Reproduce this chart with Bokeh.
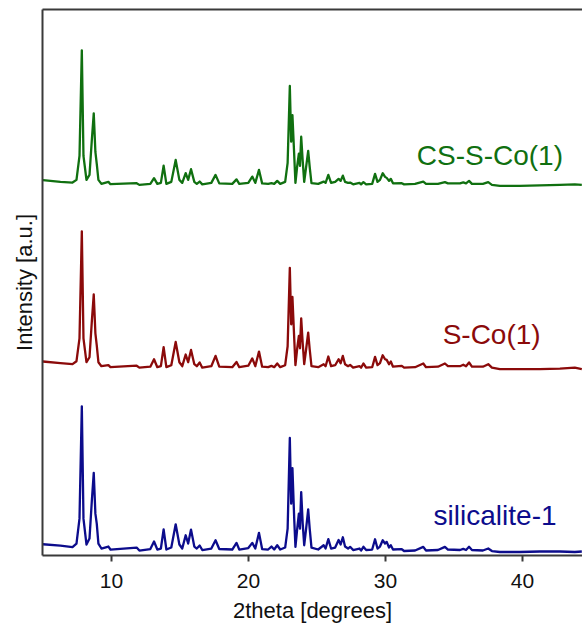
from bokeh.plotting import figure
from bokeh.models import LinearAxis, FixedTicker, Range1d, Label
from bokeh.embed import file_html
from bokeh.resources import INLINE

# 2theta positions (degrees)
two_theta = [5.00, 6.28, 7.16, 7.45, 7.67, 7.84, 7.96, 8.18, 8.40, 8.58,
             8.71, 8.83, 8.93, 9.05, 9.27, 9.78, 9.93, 11.84, 12.04, 12.84,
             13.11, 13.35, 13.61, 13.81, 14.01, 14.37, 14.69, 14.96, 15.17, 15.42,
             15.60, 15.81, 16.05, 16.23, 16.44, 16.63, 17.29, 17.60, 17.87, 18.82,
             19.13, 19.33, 19.99, 20.28, 20.50, 20.77, 21.00, 21.44, 21.68, 21.88,
             22.10, 22.32, 22.68, 22.86, 23.02, 23.12, 23.21, 23.34, 23.43, 23.56,
             23.68, 23.76, 23.85, 23.96, 24.07, 24.21, 24.36, 24.47, 24.60, 25.09,
             25.49, 25.63, 25.83, 26.03, 26.33, 26.58, 26.73, 26.89, 27.05, 27.27,
             27.42, 27.64, 28.10, 28.22, 28.39, 28.59, 29.03, 29.24, 29.42, 29.60,
             29.80, 29.97, 30.09, 30.26, 30.39, 30.55, 31.19, 31.36, 32.16, 32.76,
             32.96, 33.83, 34.34, 34.56, 35.44, 35.68, 35.88, 36.10, 36.31, 37.11,
             37.50, 37.77, 38.35, 39.81, 41.27, 42.73, 43.82, 44.33]

silicalite_1 = [11.3, 10, 8.5, 12, 37, 149.7, 37, 11, 17, 57,
                83, 42, 32, 12, 7, 9, 6, 8, 5, 6.5,
                14, 6, 7, 26.3, 6, 8, 31.3, 11, 7, 20.3,
                12, 26, 9, 7, 10, 5.5, 7, 15.3, 6.5, 6,
                12.7, 6, 7.5, 12.7, 7, 22.7, 6.5, 6, 9, 6,
                10.3, 6, 8, 27, 118, 52, 87.7, 37, 8.7, 27,
                42, 27, 63.7, 32, 10.3, 27, 46.3, 27, 8, 6,
                10.3, 7, 16.5, 7, 8, 15.5, 11, 18.3, 9, 7,
                8.7, 5.5, 7, 5, 8.7, 5.5, 6, 16.3, 7, 9,
                15.3, 12, 13.7, 8, 10.3, 6, 6.3, 4.5, 5, 8.7,
                5, 5.5, 8.7, 6, 5.5, 6.7, 5.5, 8.7, 5.5, 5,
                7, 4.5, 3.5, 3.5, 4, 4, 3.5, 4]

s_co_1 = [11.7, 10, 9, 12, 35, 142.3, 35, 11, 16, 54,
          79, 40, 28, 11, 7, 8, 6, 7.5, 5.5, 6.5,
          14, 6, 7, 26, 6, 8, 31.3, 11, 7, 18.7,
          11, 23.3, 9, 7, 10.7, 5.5, 7, 17.3, 6.5, 6,
          11.3, 6, 7.5, 14.8, 7, 21.7, 6.5, 6, 7.3, 6,
          9.7, 6, 8, 27, 105.7, 49, 76.5, 35, 8, 25,
          37.5, 25, 55, 30, 9, 24, 40.7, 24, 7, 6,
          9, 7, 16.7, 7, 8, 14, 10, 17.3, 9, 7,
          8.3, 5.5, 7, 5.5, 9.7, 5.5, 6, 16.3, 8, 10,
          18, 14, 13.3, 9, 11.7, 6.5, 7.3, 5.5, 6, 9.7,
          6, 6.5, 9.7, 7, 7, 8.5, 7, 10.7, 6.5, 6.5,
          9, 5.5, 4, 4, 4, 4.5, 5.5, 4]

cs_s_co_1 = [9.7, 8, 7.3, 10, 34, 140, 34, 10, 15, 52,
             76.7, 38, 26, 10, 6, 8, 5.7, 6.7, 5, 6,
             11.7, 6, 7, 24.3, 6, 8, 30, 10, 7, 16.7,
             10, 20.7, 8, 6, 8.3, 5.5, 7, 15, 6.5, 6,
             10.5, 6, 7, 13.3, 7, 20, 6.5, 6, 6.7, 6,
             9, 6, 8, 27, 104.3, 48.3, 75, 35, 7, 24,
             36.3, 24, 53.3, 29, 8, 23, 39.2, 23, 6.7, 6,
             8.3, 7, 15, 7, 8, 11, 9, 14.3, 8, 7,
             7.3, 5.5, 7, 5.5, 7.7, 5.5, 6, 16, 8, 10,
             16.7, 13, 12, 9, 11, 6.5, 6.7, 5.5, 6, 8.3,
             6, 6, 7.7, 6.5, 6.5, 7.5, 6.5, 9, 6, 6,
             7.7, 5, 4, 4, 4.5, 5, 5.5, 5]

x_ticks = [10, 20, 30, 40]

series_names = ["silicalite-1", "S-Co(1)", "CS-S-Co(1)"]
series_values = [silicalite_1, s_co_1, cs_s_co_1]
series_offsets = [0, 183, 367]
series_colors = ["#0c0c8c", "#8b0a0a", "#107010"]
label_pos = [(38.0, 40), (37.75, 222), (37.62, 401)]

FONT = "Liberation Sans"
AXIS_COLOR = "#3a3a3a"

p = figure(width=582, height=625,
           x_range=Range1d(4.97, 44.38), y_range=Range1d(0, 548),
           output_backend="svg", toolbar_location=None,
           min_border_left=42, min_border_right=0,
           min_border_top=9, min_border_bottom=68)
p.grid.visible = False
p.outline_line_color = None
p.background_fill_color = "white"
p.border_fill_color = "white"

for vals, off, col in zip(series_values, series_offsets, series_colors):
    p.line(two_theta, [v + off for v in vals], line_color=col,
           line_width=2.3, line_join="round")

for name, (lx, ly), col in zip(series_names, label_pos, series_colors):
    p.add_layout(Label(x=lx, y=ly, text=name, text_color=col,
                       text_font=FONT, text_font_size="28px",
                       text_align="center", text_baseline="alphabetic"))

xa = p.xaxis[0]
xa.ticker = FixedTicker(ticks=x_ticks, minor_ticks=[])
xa.axis_line_color = AXIS_COLOR
xa.axis_line_width = 2
xa.major_tick_line_color = AXIS_COLOR
xa.major_tick_line_width = 2
xa.major_tick_out = 6
xa.major_tick_in = 0
xa.minor_tick_line_color = None
xa.major_label_text_font = FONT
xa.major_label_text_font_size = "21px"
xa.major_label_text_line_height = 1.0
xa.major_label_text_color = "#111111"
xa.major_label_standoff = 12
xa.axis_label = "2theta [degrees]"
xa.axis_label_text_font = FONT
xa.axis_label_text_font_size = "22px"
xa.axis_label_text_line_height = 1.0
xa.axis_label_text_font_style = "normal"
xa.axis_label_text_color = "#111111"
xa.axis_label_standoff = 7

ya = p.yaxis[0]
ya.ticker = FixedTicker(ticks=[], minor_ticks=[])
ya.axis_line_color = AXIS_COLOR
ya.axis_line_width = 2
ya.major_tick_out = 0
ya.major_tick_in = 0
ya.minor_tick_out = 0
ya.minor_tick_in = 0
ya.major_label_text_font_size = "0px"
ya.axis_label = "Intensity [a.u.]"
ya.axis_label_text_font = FONT
ya.axis_label_text_font_size = "22px"
ya.axis_label_text_font_style = "normal"
ya.axis_label_text_color = "#111111"
ya.axis_label_standoff = 6

top = LinearAxis(ticker=FixedTicker(ticks=[], minor_ticks=[]),
                 axis_line_color=AXIS_COLOR, axis_line_width=2,
                 major_tick_out=0, major_tick_in=0,
                 minor_tick_out=0, minor_tick_in=0,
                 major_label_text_font_size="0px")
p.add_layout(top, "above")

open("out.html", "w").write(file_html(p, INLINE))
